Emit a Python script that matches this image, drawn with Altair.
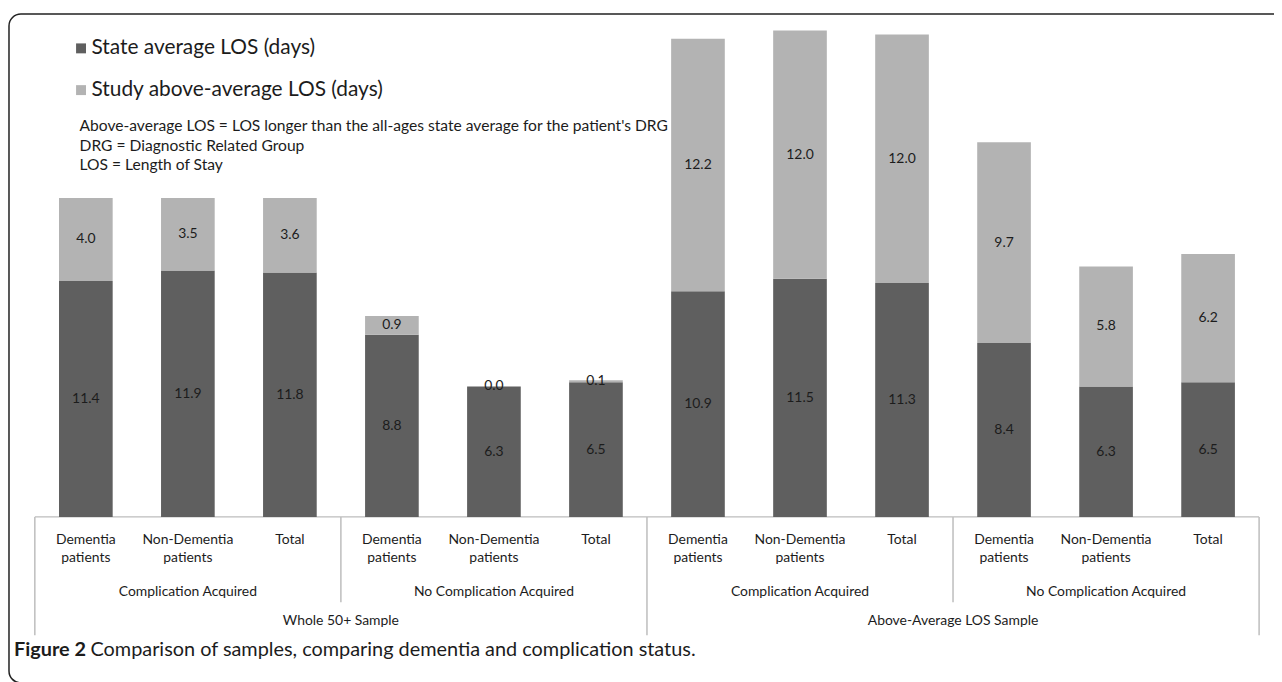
import altair as alt
import pandas as pd

# ---- data ----
sample = ["Whole 50+ Sample"] * 6 + ["Above-Average LOS Sample"] * 6
complication = (["Complication Acquired"] * 3 + ["No Complication Acquired"] * 3) * 2
patients = ["Dementia\npatients", "Non-Dementia\npatients", "Total"] * 4
state_avg = [11.4, 11.9, 11.8, 8.8, 6.3, 6.5, 10.9, 11.5, 11.3, 8.4, 6.3, 6.5]
study_above = [4.0, 3.5, 3.6, 0.9, 0.0, 0.1, 12.2, 12.0, 12.0, 9.7, 5.8, 6.2]
series = ["State average LOS (days)", "Study above-average LOS (days)"]
annotation = [
    "Above-average  LOS = LOS longer than the all-ages state average for the patient's DRG",
    "DRG = Diagnostic Related Group",
    "LOS = Length of Stay",
]
caption_bold = "Figure 2"
caption_rest = "Comparison of samples, comparing dementia and complication status."

# ---- styling ----
FONT = "Lato"
DARK = "#5f5f5f"
LIGHT = "#b3b3b3"
SEP = "#bdbdbd"
TXT = "#1c1c1c"

n = len(state_avg)
rows = []
for i in range(n):
    rows.append(dict(idx=i, series=series[0], start=0.0, end=state_avg[i],
                     value=state_avg[i], mid=state_avg[i] / 2))
    rows.append(dict(idx=i, series=series[1], start=state_avg[i],
                     end=state_avg[i] + study_above[i], value=study_above[i],
                     mid=state_avg[i] + study_above[i] / 2))
bars_df = pd.DataFrame(rows)

cat_df = pd.DataFrame(dict(idx=list(range(n)), patients=patients,
                           complication=complication, sample=sample))
mid_df = cat_df.groupby(["sample", "complication"], sort=False)["idx"].mean().reset_index()
outer_df = cat_df.groupby(["sample"], sort=False)["idx"].mean().reset_index()

# group boundaries of the hierarchical category axis
lvl3 = [-0.5] + [i - 0.5 for i in range(1, n) if sample[i] != sample[i - 1]] + [n - 0.5]
lvl2 = [i - 0.5 for i in range(1, n)
        if complication[i] != complication[i - 1] and sample[i] == sample[i - 1]]
lvl3_df = pd.DataFrame(dict(idx=lvl3))
lvl2_df = pd.DataFrame(dict(idx=lvl2))
base_df = pd.DataFrame(dict(idx=[-0.5], x1=[n - 0.5]))
annot_df = pd.DataFrame(dict(t=["\n".join(annotation)]))
cap1_df = pd.DataFrame(dict(t=[caption_bold]))
cap2_df = pd.DataFrame(dict(t=[caption_rest]))
frame_df = pd.DataFrame(dict(a=[0]))

xs = alt.Scale(domain=[-0.5, n - 0.5], nice=False, zero=False)
ys = alt.Scale(domain=[0, 24], nice=False, zero=False)
X = alt.X("idx:Q", scale=xs, axis=None, title=None)

bars = alt.Chart(bars_df).mark_bar(size=54).encode(
    x=X,
    y=alt.Y("start:Q", scale=ys, axis=None, title=None),
    y2="end:Q",
    color=alt.Color(
        "series:N",
        scale=alt.Scale(domain=series, range=[DARK, LIGHT]),
        legend=alt.Legend(
            title=None, orient="none", legendX=41, legendY=18, direction="vertical",
            symbolType="square", symbolSize=100, symbolStrokeWidth=0,
            labelFontSize=21, labelFont=FONT, labelColor=TXT, labelLimit=700,
            rowPadding=20, labelOffset=0, padding=0,
        ),
    ),
)
values = alt.Chart(bars_df).mark_text(fontSize=14, color=TXT, font=FONT).encode(
    x=X, y=alt.Y("mid:Q", scale=ys, axis=None, title=None),
    text=alt.Text("value:Q", format=".1f"),
)
baseline = alt.Chart(base_df).mark_rule(color=SEP, strokeWidth=1.2).encode(
    x=X, x2="x1:Q", y=alt.value(500)
)
sep2 = alt.Chart(lvl2_df).mark_rule(color=SEP, strokeWidth=1.5).encode(
    x=X, y=alt.value(500), y2=alt.value(586)
)
sep3 = alt.Chart(lvl3_df).mark_rule(color=SEP, strokeWidth=1.5).encode(
    x=X, y=alt.value(500), y2=alt.value(619)
)
cat_labels = alt.Chart(cat_df).mark_text(
    fontSize=14, font=FONT, color=TXT, baseline="top", lineBreak="\n", lineHeight=18
).encode(x=X, y=alt.value(516), text="patients:N")
mid_labels = alt.Chart(mid_df).mark_text(
    fontSize=14, font=FONT, color=TXT, baseline="middle"
).encode(x=X, y=alt.value(576), text="complication:N")
outer_labels = alt.Chart(outer_df).mark_text(
    fontSize=14, font=FONT, color=TXT, baseline="middle"
).encode(x=X, y=alt.value(605), text="sample:N")
annot = alt.Chart(annot_df).mark_text(
    align="left", baseline="top", fontSize=15.7, font=FONT,
    color=TXT, lineHeight=19.5, lineBreak="\n"
).encode(x=alt.value(50), y=alt.value(100), text="t:N")
cap1 = alt.Chart(cap1_df).mark_text(
    align="left", baseline="middle", fontSize=20, font=FONT,
    fontWeight="bold", color=TXT
).encode(x=alt.value(-16), y=alt.value(634), text="t:N")
cap2 = alt.Chart(cap2_df).mark_text(
    align="left", baseline="middle", fontSize=20, font=FONT, color=TXT
).encode(x=alt.value(61), y=alt.value(634), text="t:N")
frame = alt.Chart(frame_df).mark_rect(
    fillOpacity=0, stroke="#222222", strokeWidth=1.5, cornerRadius=12
).encode(x=alt.value(-21), x2=alt.value(1300), y=alt.value(-6), y2=alt.value(667))

chart = alt.layer(
    frame, baseline, sep2, sep3, bars, values, cat_labels, mid_labels,
    outer_labels, annot, cap1, cap2
).properties(
    width=1242, height=500,
    padding={"left": 22, "top": 10, "right": 10, "bottom": 164},
    autosize=alt.AutoSizeParams(type="none"),
).configure(font=FONT, view=alt.ViewConfig(strokeWidth=0))

chart.save("out.html", embed_options={"renderer": "svg", "actions": False})
